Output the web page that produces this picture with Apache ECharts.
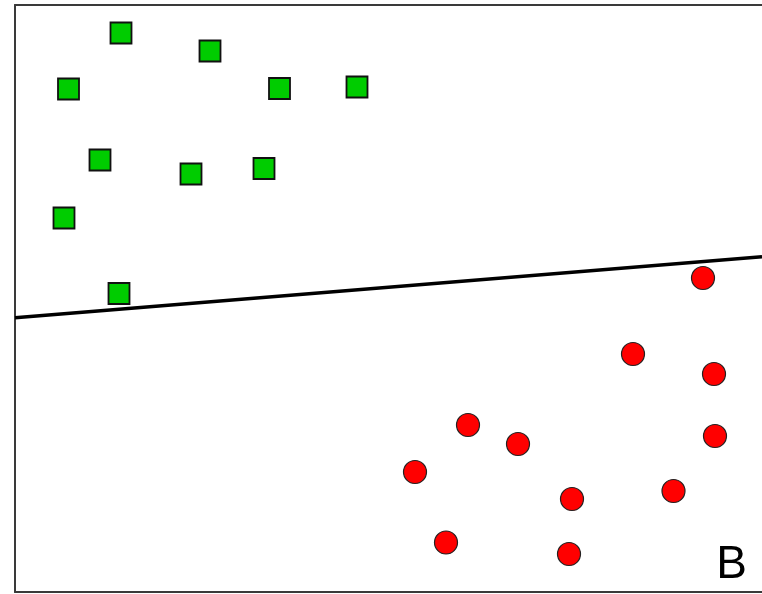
<!DOCTYPE html>
<html>
<head>
<meta charset="utf-8">
<script src="https://cdn.jsdelivr.net/npm/echarts@6/dist/echarts.min.js"></script>
<style>
    html, body { margin: 0; padding: 0; background: #fff; }
    #chart { width: 762px; height: 594px; }
</style>
</head>
<body>
<div id="chart"></div>
<script>
    // class A (green squares)
    var greenPoints = [
        [121, 33], [210, 51], [68.5, 89], [279.5, 88.5], [357, 87],
        [100, 160], [191, 174], [264, 168.5], [64, 218], [119, 293.5]
    ];
    // class B (red circles)
    var redPoints = [
        [703, 278], [633, 354], [714, 374], [468, 425], [518, 444],
        [715, 436], [415, 472], [572, 499], [673.5, 491], [446, 542.5], [569, 554]
    ];
    // separating line
    var lineEnds = [[15, 317.7], [762, 256.8]];

    var myChart = echarts.init(document.getElementById('chart'));

    // axes only used to draw the frame (no right side)
    function frameAxis(extra) {
        return Object.assign({
            type: 'value',
            axisLine: { show: true, lineStyle: { color: '#3a3a3a', width: 2 } },
            axisTick: { show: false },
            axisLabel: { show: false },
            splitLine: { show: false }
        }, extra);
    }

    var option = {
        animation: false,
        backgroundColor: '#fff',
        grid: {
            show: false,
            left: 15,
            top: 5,
            right: 0,
            bottom: 2
        },
        xAxis: [
            frameAxis({ min: 15, max: 762, position: 'bottom' }),
            frameAxis({ min: 15, max: 762, position: 'top' })
        ],
        yAxis: frameAxis({ min: 5, max: 592, inverse: true, position: 'left' }),
        series: [
            {
                type: 'line',
                data: lineEnds,
                symbol: 'none',
                lineStyle: { color: '#000', width: 3.5 },
                z: 1
            },
            {
                type: 'scatter',
                data: greenPoints,
                symbol: 'rect',
                symbolSize: 21,
                itemStyle: { color: '#00cc00', borderColor: '#111', borderWidth: 1.8, opacity: 1 },
                z: 2
            },
            {
                type: 'scatter',
                data: redPoints,
                symbol: 'circle',
                symbolSize: 23,
                itemStyle: { color: '#ff0000', borderColor: '#222', borderWidth: 1.2, opacity: 1 },
                z: 2
            }
        ],
        graphic: [
            {
                type: 'text',
                x: 747,
                y: 565,
                style: {
                    text: 'B',
                    font: '46px "Liberation Sans", Arial, sans-serif',
                    fill: '#000',
                    textAlign: 'right',
                    textVerticalAlign: 'middle'
                }
            }
        ]
    };

    myChart.setOption(option);
</script>
</body>
</html>
